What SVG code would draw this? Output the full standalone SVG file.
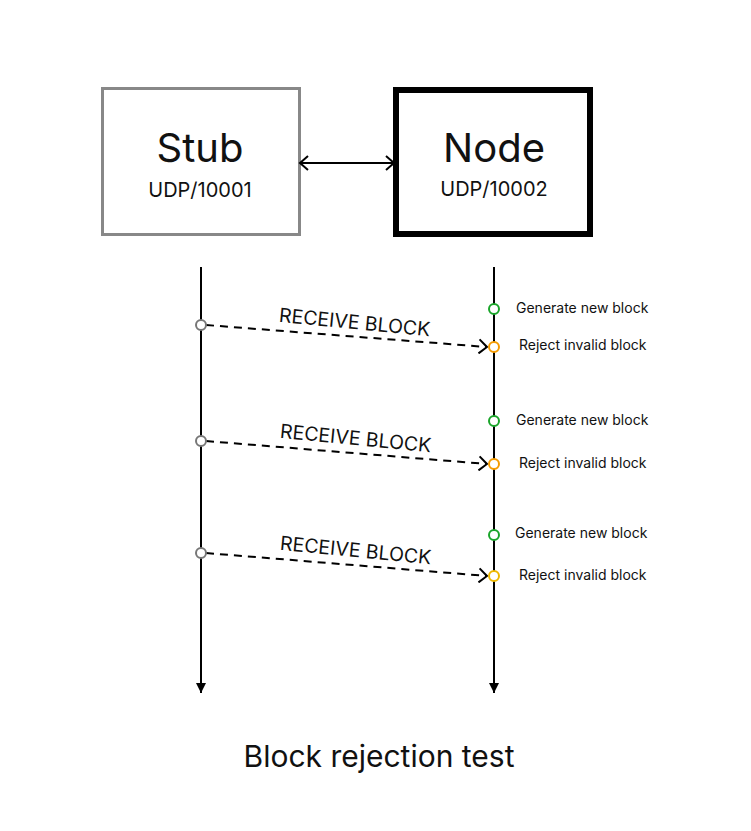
<svg xmlns="http://www.w3.org/2000/svg" width="751" height="831" viewBox="0 0 751 831">
<style>
text{font-family:Inter,"Noto Sans","Liberation Sans",sans-serif;fill:#111}
.big{font-size:40px;text-anchor:middle}
.port{font-size:20px;text-anchor:middle}
.msg{font-size:19.5px;text-anchor:middle}
.note{font-size:14px}
.life{stroke:#000;stroke-width:2;fill:none}
.dash{stroke:#000;stroke-width:2;fill:none;stroke-dasharray:8 6}
.c{fill:#fff;stroke-width:2}
.gray{stroke:#777}
.green{stroke:#1aa52a}
.orange{stroke:#f59b00}
.yellow{stroke:#eeb800}
</style>
<defs>
<marker id="open" markerWidth="12" markerHeight="16" refX="10" refY="8" orient="auto-start-reverse" markerUnits="userSpaceOnUse">
<path d="M2,1 L10,8 L2,15" fill="none" stroke="#000" stroke-width="2"/>
</marker>
<marker id="tri" markerWidth="12" markerHeight="12" refX="10" refY="5" orient="auto" markerUnits="userSpaceOnUse">
<path d="M0,0 L10,5 L0,10 Z" fill="#000"/>
</marker>
</defs>
<g id="stub">
<rect x="102.5" y="88.5" width="197" height="146" fill="#fff" stroke="#888" stroke-width="3"/>
<text class="big" x="200" y="162">Stub</text>
<text class="port" x="200" y="197">UDP/10001</text>
</g>
<g id="node">
<rect x="396" y="90" width="194" height="144" fill="#fff" stroke="#000" stroke-width="6"/>
<text class="big" x="494" y="162">Node</text>
<text class="port" x="494" y="196">UDP/10002</text>
</g>
<g id="connectors">
<line x1="300" y1="163" x2="394" y2="163" stroke="#000" stroke-width="2" marker-start="url(#open)" marker-end="url(#open)"/>
<line class="life" x1="201" y1="267" x2="201" y2="693" marker-end="url(#tri)"/>
<line class="life" x1="494" y1="267" x2="494" y2="693" marker-end="url(#tri)"/>
<line class="dash" x1="206" y1="325" x2="487" y2="347" marker-end="url(#open)"/>
<line class="dash" x1="206" y1="441" x2="487" y2="464" marker-end="url(#open)"/>
<line class="dash" x1="206" y1="553" x2="487" y2="576" marker-end="url(#open)"/>
</g>
<g id="msg1">
<circle class="c gray" cx="201" cy="325" r="5"/>
<text class="msg" transform="translate(354,329) rotate(5.5)">RECEIVE BLOCK</text>
</g>
<g id="msg2">
<circle class="c gray" cx="201" cy="441" r="5"/>
<text class="msg" transform="translate(355,445) rotate(5.5)">RECEIVE BLOCK</text>
</g>
<g id="msg3">
<circle class="c gray" cx="201" cy="553" r="5"/>
<text class="msg" transform="translate(355,557) rotate(5.5)">RECEIVE BLOCK</text>
</g>
<g id="gen1"><circle class="c green" cx="494" cy="309" r="5"/><text class="note" x="516" y="313">Generate new block</text></g>
<g id="rej1"><circle class="c orange" cx="494" cy="347" r="5"/><text class="note" x="519" y="350">Reject invalid block</text></g>
<g id="gen2"><circle class="c green" cx="494" cy="421" r="5"/><text class="note" x="516" y="425">Generate new block</text></g>
<g id="rej2"><circle class="c orange" cx="494" cy="464" r="5"/><text class="note" x="519" y="468">Reject invalid block</text></g>
<g id="gen3"><circle class="c green" cx="494" cy="535" r="5"/><text class="note" x="515" y="538">Generate new block</text></g>
<g id="rej3"><circle class="c yellow" cx="494" cy="576" r="5"/><text class="note" x="519" y="580">Reject invalid block</text></g>
<g id="title"><text x="379" y="767" style="font-size:30px;text-anchor:middle">Block rejection test</text></g>
</svg>
